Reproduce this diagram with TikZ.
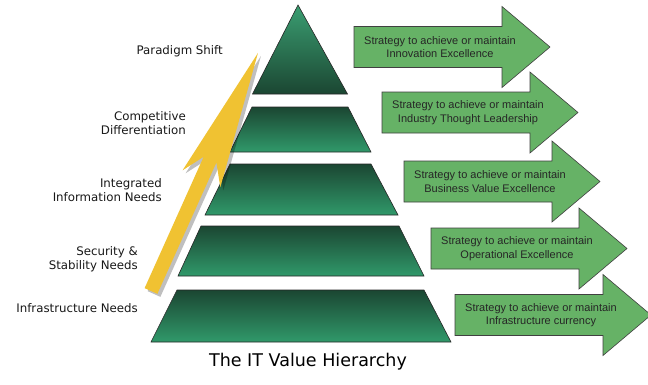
\documentclass[tikz,border=0pt]{standalone}
\usepackage{fontspec}
\setmainfont{Liberation Sans}
\newfontfamily\lblfont{DejaVu Sans}
\usepackage{tikz}
\usetikzlibrary{positioning,calc}
\definecolor{tierdark}{HTML}{1B4632}
\definecolor{tierlight}{HTML}{30996A}
\definecolor{stratgreen}{HTML}{66B266}
\definecolor{upyellow}{HTML}{F0C232}
\tikzset{
  tier/.style={draw=black!85,line width=0.6pt,top color=tierdark,bottom color=tierlight},
  peak/.style={draw=black!85,line width=0.6pt,top color=tierlight!95!white,bottom color=tierdark},
  lbl/.style={font=\lblfont\fontsize{11.8}{14}\selectfont,align=right,anchor=east,text=black!90,inner sep=0pt},
  stxt/.style={font=\fontsize{11}{13.3}\selectfont,align=center,text=black!85,inner sep=0pt},
  strat/.style={fill=stratgreen,draw=black!75,line width=0.6pt},
}

\begin{document}
\begin{tikzpicture}[x=1pt,y=-1pt]
\useasboundingbox[fill=white] (0,0) rectangle (648,384);

% pyramid, top to bottom
\shade[peak] (298,5) -- (347.5,94) -- (252.5,94) -- cycle;
\shade[tier] (252,107) -- (348,107) -- (371,152) -- (230,152) -- cycle;
\shade[tier] (230,164) -- (371,164) -- (398,215) -- (205,215) -- cycle;
\shade[tier] (201,226) -- (399,226) -- (424,276) -- (178,276) -- cycle;
\shade[tier] (177,290) -- (424,290) -- (451,342) -- (151,342) -- cycle;

% rising arrow with its shadow
\begin{scope}[shift={(154,294)},rotate=65.8]
\fill[black,opacity=0.25] (0,-7) -- (144,-7) -- (123,-20.7) -- (261,0) -- (123,20.7) -- (144,7) -- (0,7) -- cycle;
\end{scope}
\begin{scope}[shift={(151,291)},rotate=65.8]
\fill[upyellow] (0,-7) -- (144,-7) -- (123,-20.7) -- (261,0) -- (123,20.7) -- (144,7) -- (0,7) -- cycle;
\end{scope}

% strategy arrows
\foreach \i/\x/\y/\goal in {1/354/47/Innovation Excellence,
                            2/382/112.5/Industry Thought Leadership,
                            3/404/181.5/Business Value Excellence,
                            4/431/248.5/Operational Excellence,
                            5/455/315/Infrastructure currency} {
  \draw[strat] (\x,\y-20.5) -- ++(148,0) -- ++(0,-20) -- (\x+196,\y)
    -- (\x+148,\y+40.5) -- ++(0,-20) -- (\x,\y+20.5) -- cycle;
  \node[stxt] (strat\i) at (\x+86,\y) {Strategy to achieve or maintain\\\goal};
}

% level labels
\node[lbl] (paradigm) at (223,51) {Paradigm Shift};
\node[lbl] (compet) at (186,123.5) {Competitive\\Differentiation};
\node[lbl] (integ) at (162,190.5) {Integrated\\Information Needs};
\node[lbl] (secur) at (138,259) {Security \&\\Stability Needs};
\node[lbl] (infra) at (138,308) {Infrastructure Needs};

\node[font=\lblfont\fontsize{17.5}{20}\selectfont] (title) at (308,362) {The IT Value Hierarchy};
\end{tikzpicture}
\end{document}
